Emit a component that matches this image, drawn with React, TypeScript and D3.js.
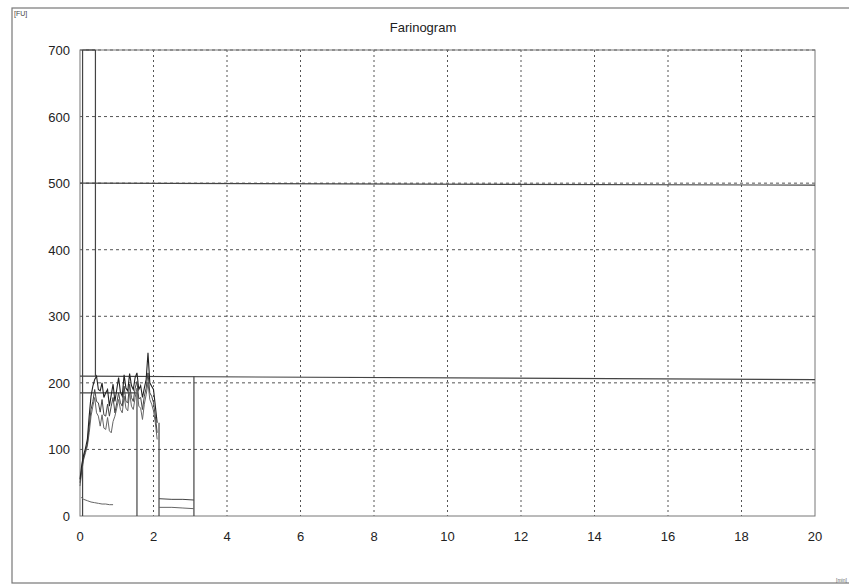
import React from "react";
import * as d3 from "d3";

const xTicks = [0, 2, 4, 6, 8, 10, 12, 14, 16, 18, 20];
const yTicks = [0, 100, 200, 300, 400, 500, 600, 700];

const time = [
  0, 0.05, 0.1, 0.15, 0.2, 0.25, 0.3, 0.35, 0.4, 0.45, 0.5, 0.55, 0.6, 0.65,
  0.7, 0.75, 0.8, 0.85, 0.9, 0.95, 1.0, 1.05, 1.1, 1.15, 1.2, 1.25, 1.3, 1.35,
  1.4, 1.45, 1.5, 1.55, 1.6, 1.65, 1.7, 1.75, 1.8, 1.85, 1.9, 1.95, 2.0, 2.05,
  2.1,
];
const upperCurve = [
  55, 78, 92, 102, 115, 150, 180, 195, 205, 210, 190, 188, 200, 178, 185, 190,
  165, 182, 198, 172, 190, 208, 186, 180, 212, 192, 188, 214, 196, 190, 208,
  215, 190, 196, 178, 192, 205, 245, 200, 195, 190, 165, 140,
];
const middleCurve = [
  50, 72, 88, 98, 108, 135, 160, 172, 190, 172, 170, 156, 175, 152, 150, 168,
  150, 165, 178, 155, 170, 185, 170, 165, 195, 172, 170, 198, 178, 172, 192,
  202, 176, 178, 160, 180, 192, 215, 185, 180, 170, 150, 125,
];
const lowerCurve = [
  45, 68, 85, 95, 105, 125, 150, 165, 178, 155, 150, 135, 152, 132, 130, 148,
  128, 125, 142, 150, 162, 175, 160, 155, 180, 162, 158, 186, 165, 160, 178,
  192, 165, 162, 145, 168, 182, 200, 175, 168, 158, 140, 115,
];

// low trace at the start
const smallTime = [0.03, 0.1, 0.2, 0.3, 0.4, 0.5, 0.6, 0.7, 0.8, 0.9];
const smallCurve = [28, 25, 23, 21, 20, 19, 18, 18, 17, 17];

// tail after the drop
const tailTime = [2.15, 2.5, 2.8, 3.1];
const tailUpper = [26, 25, 25, 24];
const tailLower = [13, 13, 12, 11];

// evaluation marker lines [x1, y1, x2, y2] in data units
const markers = [
  [0.07, 0, 0.07, 700],
  [0.07, 700, 0.42, 700],
  [0.42, 210, 0.42, 700],
  [0, 210, 20, 205],
  [0, 185, 1.55, 185],
  [1.55, 0, 1.55, 185],
  [2.15, 0, 2.15, 140],
  [3.1, 0, 3.1, 210],
  [0, 500, 20, 497],
];

const width = 849;
const height = 586;
const left = 80;
const right = 815;
const top = 50;
const bottom = 516;

const App = () => {
  const x = d3.scaleLinear().domain([0, 20]).range([left, right]);
  const y = d3.scaleLinear().domain([0, 700]).range([bottom, top]);

  const line = d3
    .line<number>()
    .x((d, i) => x(time[i]))
    .y((d) => y(d));
  const lineXY = (xs: number[], ys: number[]) =>
    d3
      .line<number>()
      .x((d, i) => x(xs[i]))
      .y((d) => y(d))(ys) as string;

  return (
    <svg
      width={width}
      height={height}
      style={{ position: "absolute", left: 0, top: 0, background: "#fff" }}
      fontFamily="'Liberation Sans', Arial, sans-serif"
    >
      <rect x={12} y={8} width={850} height={575} fill="none" stroke="#777" strokeWidth={1.2} />
      <text x={14} y={16} fontSize={7} fill="#444">[FU]</text>
      <text x={836} y={582} fontSize={5} fill="#666">[min]</text>
      <text x={423} y={32} fontSize={13} textAnchor="middle" fill="#222">
        Farinogram
      </text>

      {xTicks.slice(1, -1).map((t) => (
        <line key={"gx" + t} x1={x(t)} x2={x(t)} y1={top} y2={bottom} stroke="#555" strokeDasharray="2,3" strokeWidth={1} />
      ))}
      {yTicks.slice(1).map((t) => (
        <line key={"gy" + t} x1={left} x2={right} y1={y(t)} y2={y(t)} stroke="#555" strokeDasharray="3,3" strokeWidth={1} />
      ))}
      <rect x={left} y={top} width={right - left} height={bottom - top} fill="none" stroke="#777" strokeWidth={1} />

      {markers.map((m, i) => (
        <line key={"m" + i} x1={x(m[0])} y1={y(m[1])} x2={x(m[2])} y2={y(m[3])} stroke="#444" strokeWidth={1.2} />
      ))}

      <path d={line(lowerCurve) as string} fill="none" stroke="#666" strokeWidth={1} />
      <path d={line(middleCurve) as string} fill="none" stroke="#444" strokeWidth={1} />
      <path d={line(upperCurve) as string} fill="none" stroke="#222" strokeWidth={1.1} />
      <path d={lineXY(smallTime, smallCurve)} fill="none" stroke="#666" strokeWidth={1} />
      <path d={lineXY(tailTime, tailUpper)} fill="none" stroke="#444" strokeWidth={1} />
      <path d={lineXY(tailTime, tailLower)} fill="none" stroke="#666" strokeWidth={1} />

      {yTicks.map((t) => (
        <text key={"ty" + t} x={70} y={y(t) + 5} fontSize={13} textAnchor="end" fill="#222">
          {t}
        </text>
      ))}
      {xTicks.map((t) => (
        <text key={"tx" + t} x={x(t)} y={541} fontSize={13} textAnchor="middle" fill="#222">
          {t}
        </text>
      ))}
    </svg>
  );
};

export default App;
